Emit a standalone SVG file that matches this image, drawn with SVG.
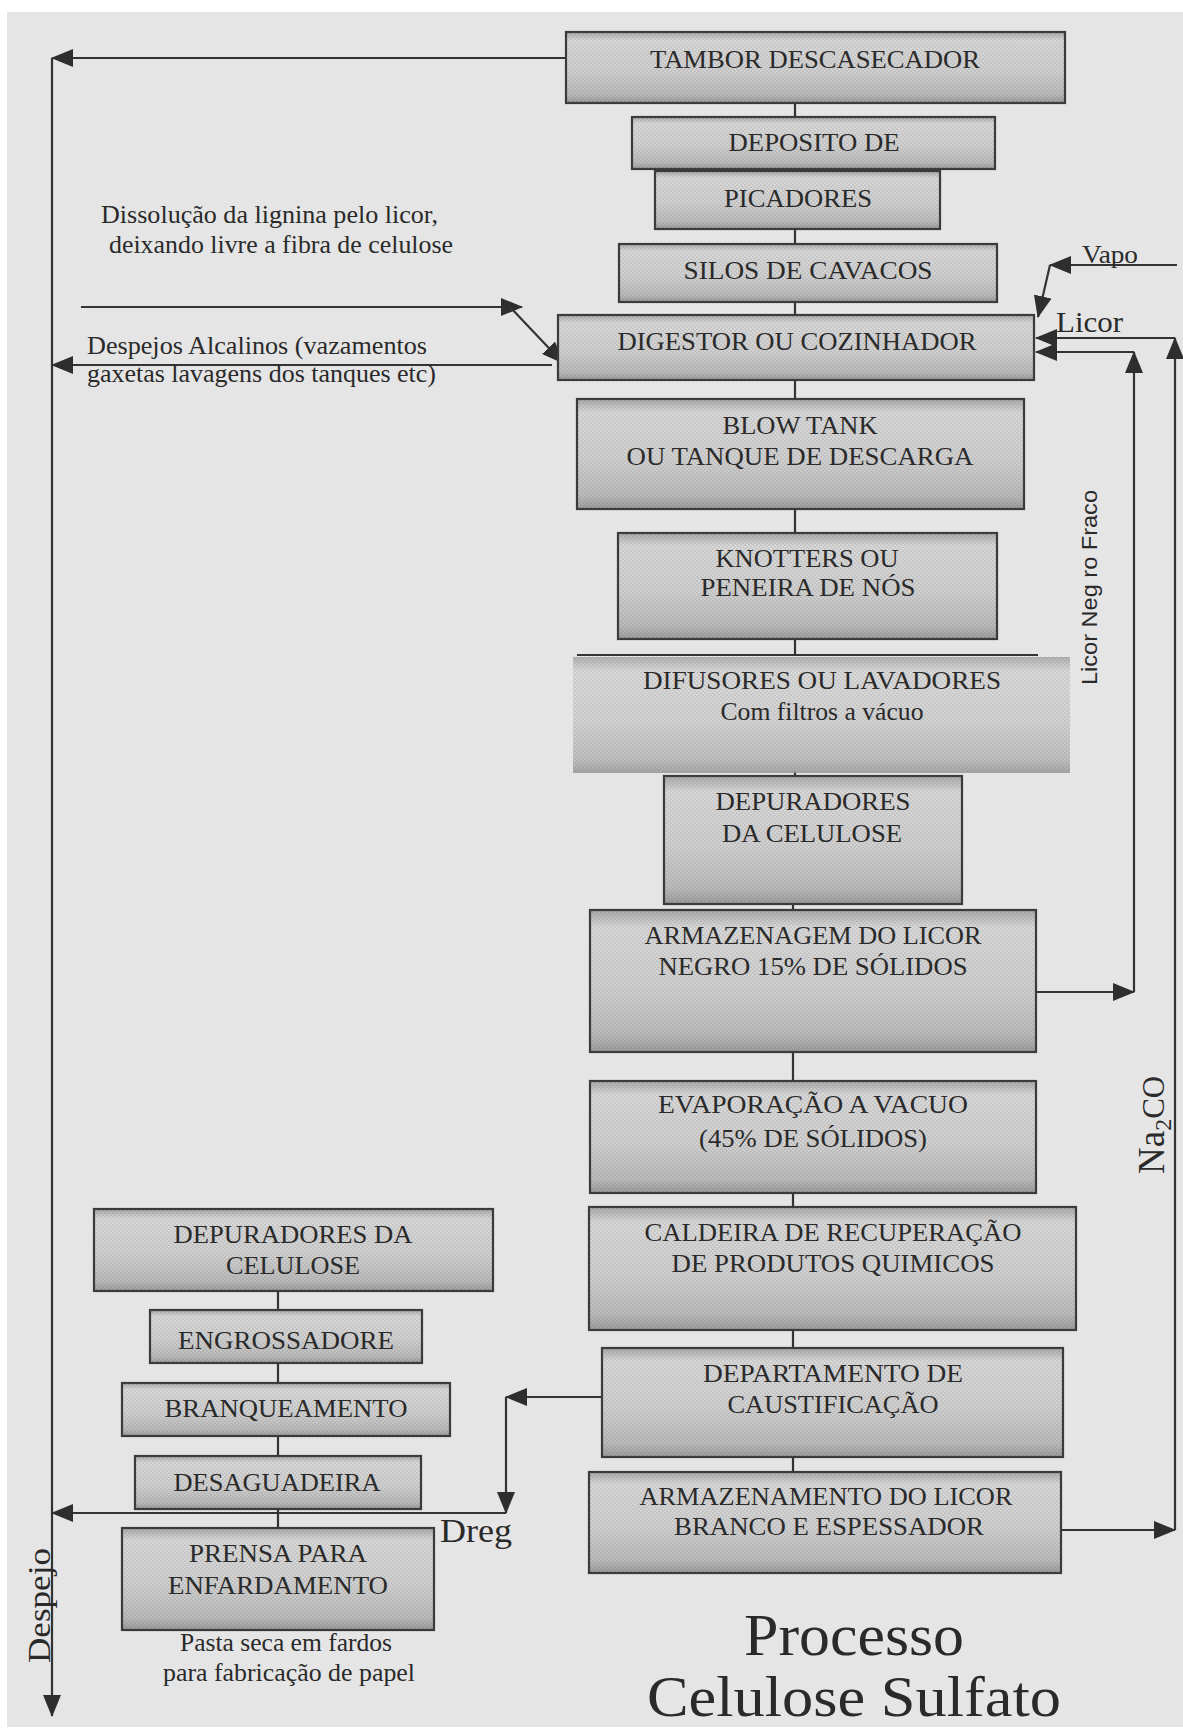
<svg xmlns="http://www.w3.org/2000/svg" width="1183" height="1731" viewBox="0 0 1183 1731">
<style>
.bx{fill:url(#g);stroke:#3a3a3a;stroke-width:2.2}
.bn{fill:url(#g);stroke:none;opacity:0.85}
.dt{fill:url(#dots);stroke:none}
.t{font-family:"Liberation Serif","Times New Roman",serif;font-size:26px;fill:#2a2a2a;text-anchor:middle}
.s{font-family:"Liberation Serif","Times New Roman",serif;fill:#2a2a2a}
.ss{font-family:"Liberation Sans",Arial,sans-serif;fill:#2a2a2a}
.ln{stroke:#333;stroke-width:2.2;fill:none}
.ar{stroke:#333;stroke-width:2.2;fill:none;marker-end:url(#ah)}
</style>
<defs>
<linearGradient id="g" x1="0" y1="0" x2="0" y2="1">
<stop offset="0" stop-color="#a8a8a8"/>
<stop offset="0.12" stop-color="#d8d8d8"/>
<stop offset="0.55" stop-color="#d0d0d0"/>
<stop offset="0.88" stop-color="#bababa"/>
<stop offset="1" stop-color="#9a9a9a"/>
</linearGradient>
<pattern id="dots" width="4" height="4" patternUnits="userSpaceOnUse">
<circle cx="1" cy="1" r="0.85" fill="#5a5a5a" opacity="0.25"/>
<circle cx="3" cy="3" r="0.85" fill="#5a5a5a" opacity="0.25"/>
</pattern>
<marker id="ah" viewBox="0 0 22 18" refX="21" refY="9" markerWidth="22" markerHeight="18" markerUnits="userSpaceOnUse" orient="auto">
<path d="M0,0 L22,9 L0,18 z" fill="#2e2e2e"/>
</marker>
</defs>
<rect x="0" y="0" width="1183" height="1731" fill="#ffffff"/>
<rect x="7" y="12" width="1176" height="1715" fill="#e5e5e5"/>

<g id="connectors">
<line class="ln" x1="795" y1="103" x2="795" y2="117"/>
<line class="ln" x1="795" y1="169" x2="795" y2="171"/>
<line class="ln" x1="795" y1="229" x2="795" y2="244"/>
<line class="ln" x1="795" y1="302" x2="795" y2="315"/>
<line class="ln" x1="795" y1="380" x2="795" y2="399"/>
<line class="ln" x1="795" y1="509" x2="795" y2="533"/>
<line class="ln" x1="795" y1="639" x2="795" y2="655"/>
<line class="ln" x1="795" y1="771" x2="795" y2="776"/>
<line class="ln" x1="793" y1="904" x2="793" y2="910"/>
<line class="ln" x1="793" y1="1052" x2="793" y2="1081"/>
<line class="ln" x1="793" y1="1193" x2="793" y2="1207"/>
<line class="ln" x1="793" y1="1330" x2="793" y2="1348"/>
<line class="ln" x1="793" y1="1457" x2="793" y2="1472"/>
<line class="ln" x1="278" y1="1291" x2="278" y2="1310"/>
<line class="ln" x1="278" y1="1363" x2="278" y2="1383"/>
<line class="ln" x1="278" y1="1436" x2="278" y2="1456"/>
<line class="ln" x1="278" y1="1509" x2="278" y2="1528"/>
<line class="ar" x1="566" y1="58" x2="52" y2="58"/>
<line class="ar" x1="52" y1="58" x2="52" y2="1716"/>
<line class="ar" x1="552" y1="365" x2="52" y2="365"/>
<line class="ar" x1="81" y1="307" x2="522" y2="307"/>
<line class="ar" x1="510" y1="307" x2="563" y2="363"/>
<line class="ar" x1="1177" y1="265" x2="1050" y2="265"/>
<line class="ar" x1="1050" y1="265" x2="1038" y2="317"/>
<line class="ar" x1="1061" y1="1530" x2="1175" y2="1530"/>
<line class="ar" x1="1175" y1="1530" x2="1175" y2="338"/>
<line class="ar" x1="1175" y1="338" x2="1036" y2="338"/>
<line class="ar" x1="1036" y1="992" x2="1134" y2="992"/>
<line class="ar" x1="1134" y1="992" x2="1134" y2="352"/>
<line class="ar" x1="1134" y1="352" x2="1036" y2="352"/>
<line class="ar" x1="602" y1="1397" x2="506" y2="1397"/>
<line class="ar" x1="506" y1="1397" x2="506" y2="1513"/>
<line class="ar" x1="506" y1="1513" x2="52" y2="1513"/>
</g>

<g id="n-tambor"><rect class="bx" x="566" y="32" width="499" height="71"/><rect class="dt" x="566" y="32" width="499" height="71"/>
<text class="t" x="815" y="68" textLength="330" lengthAdjust="spacingAndGlyphs">TAMBOR DESCASECADOR</text></g>
<g id="n-deposito"><rect class="bx" x="632" y="117" width="363" height="52"/><rect class="dt" x="632" y="117" width="363" height="52"/>
<text class="t" x="814" y="151" textLength="171" lengthAdjust="spacingAndGlyphs">DEPOSITO DE</text></g>
<g id="n-picadores"><rect class="bx" x="655" y="171" width="285" height="58"/><rect class="dt" x="655" y="171" width="285" height="58"/>
<text class="t" x="798" y="207" textLength="148" lengthAdjust="spacingAndGlyphs">PICADORES</text></g>
<g id="n-silos"><rect class="bx" x="619" y="244" width="378" height="58"/><rect class="dt" x="619" y="244" width="378" height="58"/>
<text class="t" x="808" y="279" textLength="249" lengthAdjust="spacingAndGlyphs">SILOS DE CAVACOS</text></g>
<g id="n-digestor"><rect class="bx" x="558" y="315" width="476" height="65"/><rect class="dt" x="558" y="315" width="476" height="65"/>
<text class="t" x="797" y="350" textLength="359" lengthAdjust="spacingAndGlyphs">DIGESTOR OU COZINHADOR</text></g>
<g id="n-blowtank"><rect class="bx" x="577" y="399" width="447" height="110"/><rect class="dt" x="577" y="399" width="447" height="110"/>
<text class="t" x="800" y="434" textLength="155" lengthAdjust="spacingAndGlyphs">BLOW TANK</text>
<text class="t" x="800" y="465" textLength="347" lengthAdjust="spacingAndGlyphs">OU TANQUE DE DESCARGA</text></g>
<g id="n-knotters"><rect class="bx" x="618" y="533" width="379" height="106"/><rect class="dt" x="618" y="533" width="379" height="106"/>
<text class="t" x="807" y="567" textLength="183" lengthAdjust="spacingAndGlyphs">KNOTTERS OU</text>
<text class="t" x="808" y="596" textLength="215" lengthAdjust="spacingAndGlyphs">PENEIRA DE NÓS</text></g>
<g id="n-difusores"><rect class="bn" x="573" y="657" width="497" height="116"/><rect class="dt" x="573" y="657" width="497" height="116"/>
<line class="ln" x1="577" y1="655" x2="1038" y2="655"/>
<text class="t" x="822" y="689" textLength="358" lengthAdjust="spacingAndGlyphs">DIFUSORES OU LAVADORES</text>
<text class="t" x="822" y="720" textLength="203" lengthAdjust="spacingAndGlyphs">Com filtros a vácuo</text></g>
<g id="n-depuradores1"><rect class="bx" x="664" y="776" width="298" height="128"/><rect class="dt" x="664" y="776" width="298" height="128"/>
<text class="t" x="813" y="810" textLength="195" lengthAdjust="spacingAndGlyphs">DEPURADORES</text>
<text class="t" x="812" y="842" textLength="180" lengthAdjust="spacingAndGlyphs">DA CELULOSE</text></g>
<g id="n-armazenagem"><rect class="bx" x="590" y="910" width="446" height="142"/><rect class="dt" x="590" y="910" width="446" height="142"/>
<text class="t" x="813" y="944" textLength="337" lengthAdjust="spacingAndGlyphs">ARMAZENAGEM DO LICOR</text>
<text class="t" x="813" y="975" textLength="309" lengthAdjust="spacingAndGlyphs">NEGRO 15% DE SÓLIDOS</text></g>
<g id="n-evaporacao"><rect class="bx" x="590" y="1081" width="446" height="112"/><rect class="dt" x="590" y="1081" width="446" height="112"/>
<text class="t" x="813" y="1113" textLength="310" lengthAdjust="spacingAndGlyphs">EVAPORAÇÃO A VACUO</text>
<text class="t" x="813" y="1147" textLength="228" lengthAdjust="spacingAndGlyphs">(45% DE SÓLIDOS)</text></g>
<g id="n-caldeira"><rect class="bx" x="589" y="1207" width="487" height="123"/><rect class="dt" x="589" y="1207" width="487" height="123"/>
<text class="t" x="833" y="1241" textLength="377" lengthAdjust="spacingAndGlyphs">CALDEIRA DE RECUPERAÇÃO</text>
<text class="t" x="833" y="1272" textLength="323" lengthAdjust="spacingAndGlyphs">DE PRODUTOS QUIMICOS</text></g>
<g id="n-caustificacao"><rect class="bx" x="602" y="1348" width="461" height="109"/><rect class="dt" x="602" y="1348" width="461" height="109"/>
<text class="t" x="833" y="1382" textLength="260" lengthAdjust="spacingAndGlyphs">DEPARTAMENTO DE</text>
<text class="t" x="833" y="1413" textLength="211" lengthAdjust="spacingAndGlyphs">CAUSTIFICAÇÃO</text></g>
<g id="n-armazenamento"><rect class="bx" x="589" y="1472" width="472" height="101"/><rect class="dt" x="589" y="1472" width="472" height="101"/>
<text class="t" x="826" y="1505" textLength="373" lengthAdjust="spacingAndGlyphs">ARMAZENAMENTO DO LICOR</text>
<text class="t" x="829" y="1535" textLength="310" lengthAdjust="spacingAndGlyphs">BRANCO E ESPESSADOR</text></g>

<g id="n-depuradores2"><rect class="bx" x="94" y="1209" width="399" height="82"/><rect class="dt" x="94" y="1209" width="399" height="82"/>
<text class="t" x="293" y="1243" textLength="239" lengthAdjust="spacingAndGlyphs">DEPURADORES DA</text>
<text class="t" x="293" y="1274" textLength="134" lengthAdjust="spacingAndGlyphs">CELULOSE</text></g>
<g id="n-engrossadore"><rect class="bx" x="150" y="1310" width="272" height="53"/><rect class="dt" x="150" y="1310" width="272" height="53"/>
<text class="t" x="286" y="1349" textLength="216" lengthAdjust="spacingAndGlyphs">ENGROSSADORE</text></g>
<g id="n-branqueamento"><rect class="bx" x="122" y="1383" width="328" height="53"/><rect class="dt" x="122" y="1383" width="328" height="53"/>
<text class="t" x="286" y="1417" textLength="243" lengthAdjust="spacingAndGlyphs">BRANQUEAMENTO</text></g>
<g id="n-desaguadeira"><rect class="bx" x="135" y="1456" width="286" height="53"/><rect class="dt" x="135" y="1456" width="286" height="53"/>
<text class="t" x="277" y="1491" textLength="207" lengthAdjust="spacingAndGlyphs">DESAGUADEIRA</text></g>
<g id="n-prensa"><rect class="bx" x="122" y="1528" width="312" height="102"/><rect class="dt" x="122" y="1528" width="312" height="102"/>
<text class="t" x="278" y="1562" textLength="178" lengthAdjust="spacingAndGlyphs">PRENSA PARA</text>
<text class="t" x="278" y="1594" textLength="220" lengthAdjust="spacingAndGlyphs">ENFARDAMENTO</text></g>

<g id="labels">
<text class="s" x="101" y="223" font-size="25" textLength="337" lengthAdjust="spacingAndGlyphs">Dissolução da lignina pelo licor,</text>
<text class="s" x="109" y="253" font-size="25" textLength="344" lengthAdjust="spacingAndGlyphs">deixando livre a fibra de celulose</text>
<text class="s" x="87" y="354" font-size="25" textLength="340" lengthAdjust="spacingAndGlyphs">Despejos Alcalinos (vazamentos</text>
<text class="s" x="87" y="382" font-size="25" textLength="349" lengthAdjust="spacingAndGlyphs">gaxetas lavagens dos tanques etc)</text>
<text class="s" x="1082" y="263" font-size="25" textLength="56" lengthAdjust="spacingAndGlyphs">Vapo</text>
<text class="s" x="1056" y="332" font-size="30" textLength="67" lengthAdjust="spacingAndGlyphs">Licor</text>
<text class="s" x="440" y="1542" font-size="33" textLength="72" lengthAdjust="spacingAndGlyphs">Dreg</text>
<text class="s" font-size="31" transform="translate(50,1663) rotate(-90)" textLength="115" lengthAdjust="spacingAndGlyphs">Despejo</text>
<text class="ss" font-size="22" transform="translate(1097,685) rotate(-90)" textLength="195" lengthAdjust="spacingAndGlyphs">Licor Neg ro Fraco</text>
<text class="s" font-size="37" transform="translate(1164,1174) rotate(-90)">Na<tspan font-size="24" dy="7">2</tspan><tspan font-size="31" dy="-7">CO</tspan></text>
<text class="s" x="286" y="1651" font-size="24.5" text-anchor="middle" textLength="212" lengthAdjust="spacingAndGlyphs">Pasta seca em fardos</text>
<text class="s" x="289" y="1681" font-size="24.5" text-anchor="middle" textLength="252" lengthAdjust="spacingAndGlyphs">para fabricação de papel</text>
<text class="s" x="854" y="1655" font-size="60" text-anchor="middle" textLength="220" lengthAdjust="spacingAndGlyphs">Processo</text>
<text class="s" x="854" y="1716" font-size="58" text-anchor="middle" textLength="414" lengthAdjust="spacingAndGlyphs">Celulose Sulfato</text>
</g>
</svg>
